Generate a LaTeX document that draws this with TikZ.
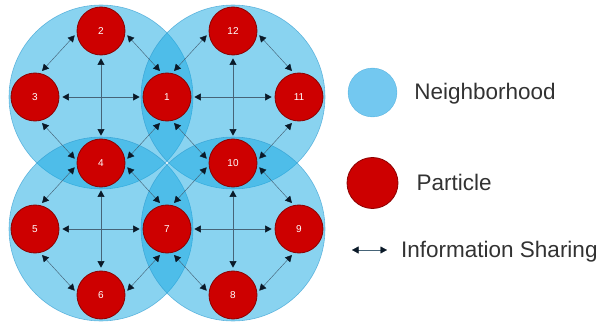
\documentclass[tikz,border=0pt]{standalone}
\usepackage{fontspec}
\setmainfont{Liberation Sans}
\usepackage{tikz}
\usetikzlibrary{arrows.meta,positioning}

\definecolor{hoodblue}{RGB}{20,168,226}
\definecolor{hoodline}{RGB}{40,150,205}
\definecolor{legblue}{RGB}{115,200,240}
\definecolor{ptred}{RGB}{205,0,0}
\definecolor{ptline}{RGB}{140,0,0}
\definecolor{linkgray}{RGB}{70,100,120}
\definecolor{tipnavy}{RGB}{10,25,40}
\definecolor{legtext}{RGB}{50,50,50}

\begin{document}
\begin{tikzpicture}[x=1pt,y=1pt,
        hood/.style={circle,draw=hoodline,fill=hoodblue,fill opacity=0.5,draw opacity=0.6,line width=0.6pt,minimum size=184pt,inner sep=0pt},
        particle/.style={circle,draw=ptline,fill=ptred,line width=0.8pt,minimum size=48pt,inner sep=0pt,text=white,font=\fontsize{10}{10}\selectfont},
        share/.style={<->,>={Triangle[length=6.5pt,width=7pt,color=tipnavy,fill=tipnavy]},draw=linkgray,line width=0.45pt,shorten <=3pt,shorten >=3pt},
        legend/.style={font=\fontsize{22.5}{27}\selectfont,text=legtext,inner sep=0pt,text height=15pt,text depth=0pt}
    ]
        \useasboundingbox (0,0) rectangle (614,322);

        % Neighborhoods
        \node[hood] (hoodTL) at (101,225) {};
        \node[hood] (hoodTR) at (233,225) {};
        \node[hood] (hoodBL) at (101,93) {};
        \node[hood] (hoodBR) at (233,93) {};

        % Particles
        \node[particle] (p2) at (101,291) {2};
        \node[particle] (p3) at (35,225) {3};
        \node[particle] (p1) at (167,225) {1};
        \node[particle] (p4) at (101,159) {4};
        \node[particle] (p12) at (233,291) {12};
        \node[particle] (p11) at (299,225) {11};
        \node[particle] (p10) at (233,159) {10};
        \node[particle] (p5) at (35,93) {5};
        \node[particle] (p7) at (167,93) {7};
        \node[particle] (p6) at (101,27) {6};
        \node[particle] (p9) at (299,93) {9};
        \node[particle] (p8) at (233,27) {8};

        % Top left neighborhood
        \draw[share] (p2.south) -- (p4.north);
        \draw[share] (p3.east) -- (p1.west);
        \draw[share] (p2.185) -- (p3.78);
        \draw[share] (p2.-5) -- (p1.102);
        \draw[share] (p3.-78) -- (p4.175);
        \draw[share] (p1.-102) -- (p4.5);

        % Top right neighborhood
        \draw[share] (p12.south) -- (p10.north);
        \draw[share] (p1.east) -- (p11.west);
        \draw[share] (p12.185) -- (p1.78);
        \draw[share] (p12.-5) -- (p11.102);
        \draw[share] (p1.-78) -- (p10.175);
        \draw[share] (p11.-102) -- (p10.5);

        % Bottom left neighborhood
        \draw[share] (p4.south) -- (p6.north);
        \draw[share] (p5.east) -- (p7.west);
        \draw[share] (p4.185) -- (p5.78);
        \draw[share] (p4.-5) -- (p7.102);
        \draw[share] (p5.-78) -- (p6.175);
        \draw[share] (p7.-102) -- (p6.5);

        % Bottom right neighborhood
        \draw[share] (p10.south) -- (p8.north);
        \draw[share] (p7.east) -- (p9.west);
        \draw[share] (p10.185) -- (p7.78);
        \draw[share] (p10.-5) -- (p9.102);
        \draw[share] (p7.-78) -- (p8.175);
        \draw[share] (p9.-102) -- (p8.5);

        % Legend
        \node[circle,draw=hoodline,draw opacity=0.5,fill=legblue,minimum size=49pt,inner sep=0pt] (legHood) at (372.5,229.5) {};
        \node[legend,right=17pt of legHood] (legHoodText) {Neighborhood};
        \node[particle,minimum size=51pt] (legParticle) at (372.5,139) {};
        \node[legend,right=18pt of legParticle] (legParticleText) {Particle};
        \coordinate (legA) at (352,72);
        \coordinate (legB) at (387,72);
        \draw[share,shorten <=0pt,shorten >=0pt] (legA) -- (legB);
        \node[legend,right=14pt of legB] (legShareText) {Information Sharing};
    \end{tikzpicture}
\end{document}
